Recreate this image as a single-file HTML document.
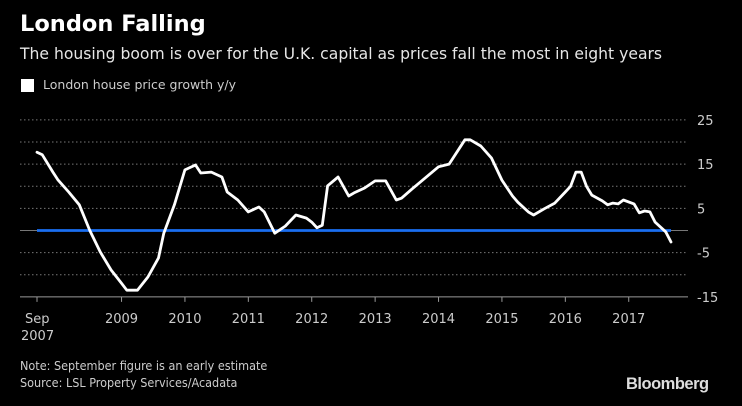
<!DOCTYPE html>
<html><head><meta charset="utf-8"><style>
html,body{margin:0;padding:0;background:#000;}
body{width:742px;height:406px;overflow:hidden;position:relative;font-family:"DejaVu Sans","Liberation Sans",sans-serif;color:#ddd;}
.t{position:absolute;white-space:nowrap;}
</style></head><body>
<div class="t" style="left:20px;top:11px;font-size:22.5px;font-weight:bold;color:#fff;">London Falling</div>
<div class="t" style="left:20px;top:45px;font-size:15.6px;color:#e6e6e6;">The housing boom is over for the U.K. capital as prices fall the most in eight years</div>
<div style="position:absolute;left:21px;top:79px;">
  <div style="position:absolute;left:0;top:0;width:13px;height:13px;background:#fff;"></div>
  <div class="t" style="left:22px;top:-2px;font-size:12.5px;color:#ccc;">London house price growth y/y</div>
</div>
<svg id="chart" width="742" height="406" style="position:absolute;left:0;top:0;"></svg>
<div class="t" style="left:20px;top:358px;font-size:12.5px;color:#ccc;font-family:'Liberation Sans Narrow','DejaVu Sans Condensed','Liberation Sans',sans-serif;">Note: September figure is an early estimate</div>
<div class="t" style="left:20px;top:375px;font-size:12.5px;color:#ccc;font-family:'Liberation Sans Narrow','DejaVu Sans Condensed','Liberation Sans',sans-serif;">Source: LSL Property Services/Acadata</div>
<div class="t" style="left:626px;top:375px;font-size:16.5px;font-weight:bold;color:#ddd;letter-spacing:-0.5px;font-family:'Liberation Sans',sans-serif;">Bloomberg</div>
<script>
const months=[0,1,3,4,6,8,10,12,14,16,17,19,21,23,24,26,28,30,31,33,35,36,38,40,42,43,45,47,49,51,52,53,54,55,57,59,60,62,64,66,68,69,71,73,76,78,81,82,84,86,88,90,91,93,94,96,98,100,101,102,103,104,105,107,108,109,110,111,113,114,115,116,117,119,120];
const values=[17.7,17.1,13.2,11.4,8.7,5.8,0,-4.9,-8.9,-11.9,-13.5,-13.5,-10.5,-6.2,-0.6,5.8,13.7,14.8,13,13.2,12.1,8.7,6.9,4.2,5.3,4.2,-0.6,1,3.5,2.8,1.9,0.6,1.2,10.1,12.1,7.8,8.5,9.6,11.2,11.2,6.9,7.3,9.4,11.4,14.4,15,20.5,20.5,19.1,16.4,11.4,7.8,6.4,4.2,3.5,4.9,6.2,8.7,10,13.2,13.2,10,8,6.7,5.8,6.2,6,6.9,6,4,4.4,4.2,1.9,-0.3,-2.6];
const yTicks=[25,15,5,-5,-15];
const yGrid=[25,20,15,10,5,-5,-10];
const xTickLabels=["2009","2010","2011","2012","2013","2014","2015","2016","2017"];
const xTickYears=[2009,2010,2011,2012,2013,2014,2015,2016,2017];
const NS='http://www.w3.org/2000/svg';
const svg=document.getElementById('chart');
const x0=37,pxPerYear=63.4,startYear=2007+8/12;
function xm(m){return x0+m*pxPerYear/12;}
function xy(yr){return x0+(yr-startYear)*pxPerYear;}
function y(v){return 230.5-v*4.425;}
function mk(tag,attrs){const e=document.createElementNS(NS,tag);for(const k in attrs)e.setAttribute(k,attrs[k]);svg.appendChild(e);return e;}
const L=20,R=688;
yGrid.forEach(v=>{const g=mk('line',{x1:L,x2:R,y1:y(v),y2:y(v),stroke:'#777','stroke-width':1,'stroke-dasharray':'1.5,2.5'});

});
const z=mk('line',{x1:L,x2:R,y1:y(0),y2:y(0),stroke:'#777','stroke-width':1});


const base=mk('line',{x1:L,x2:R,y1:y(-15),y2:y(-15),stroke:'#999','stroke-width':1});


yTicks.forEach(v=>{const t=mk('text',{x:697,y:y(v)+5,fill:'#ccc','font-size':13,'font-family':'DejaVu Sans, Liberation Sans, sans-serif'});t.textContent=v;

});
const tk0=mk('line',{x1:xm(0),x2:xm(0),y1:y(-15),y2:y(-15)+5,stroke:'#999'});


const s1=mk('text',{x:25,y:323,fill:'#ccc','font-size':13,'font-family':'DejaVu Sans, Liberation Sans, sans-serif'});s1.textContent='Sep';


const s2=mk('text',{x:21,y:340,fill:'#ccc','font-size':13,'font-family':'DejaVu Sans, Liberation Sans, sans-serif'});s2.textContent='2007';


xTickYears.forEach((yr,i)=>{const X=xy(yr);
const tk=mk('line',{x1:X,x2:X,y1:y(-15),y2:y(-15)+5,stroke:'#999'});


const t=mk('text',{x:X,y:323,fill:'#ccc','font-size':13,'text-anchor':'middle','font-family':'DejaVu Sans, Liberation Sans, sans-serif'});t.textContent=xTickLabels[i];

});
const bl=mk('line',{x1:xm(months[0]),x2:xm(months[months.length-1]),y1:y(0),y2:y(0),stroke:'#1a6ef0','stroke-width':2.8});


const d=months.map((m,i)=>(i?'L':'M')+xm(m).toFixed(1)+','+y(values[i]).toFixed(1)).join(' ');
const p=mk('path',{d:d,fill:'none',stroke:'#fff','stroke-width':2.8,'stroke-linejoin':'round','stroke-linecap':'round'});


</script>
</body></html>
